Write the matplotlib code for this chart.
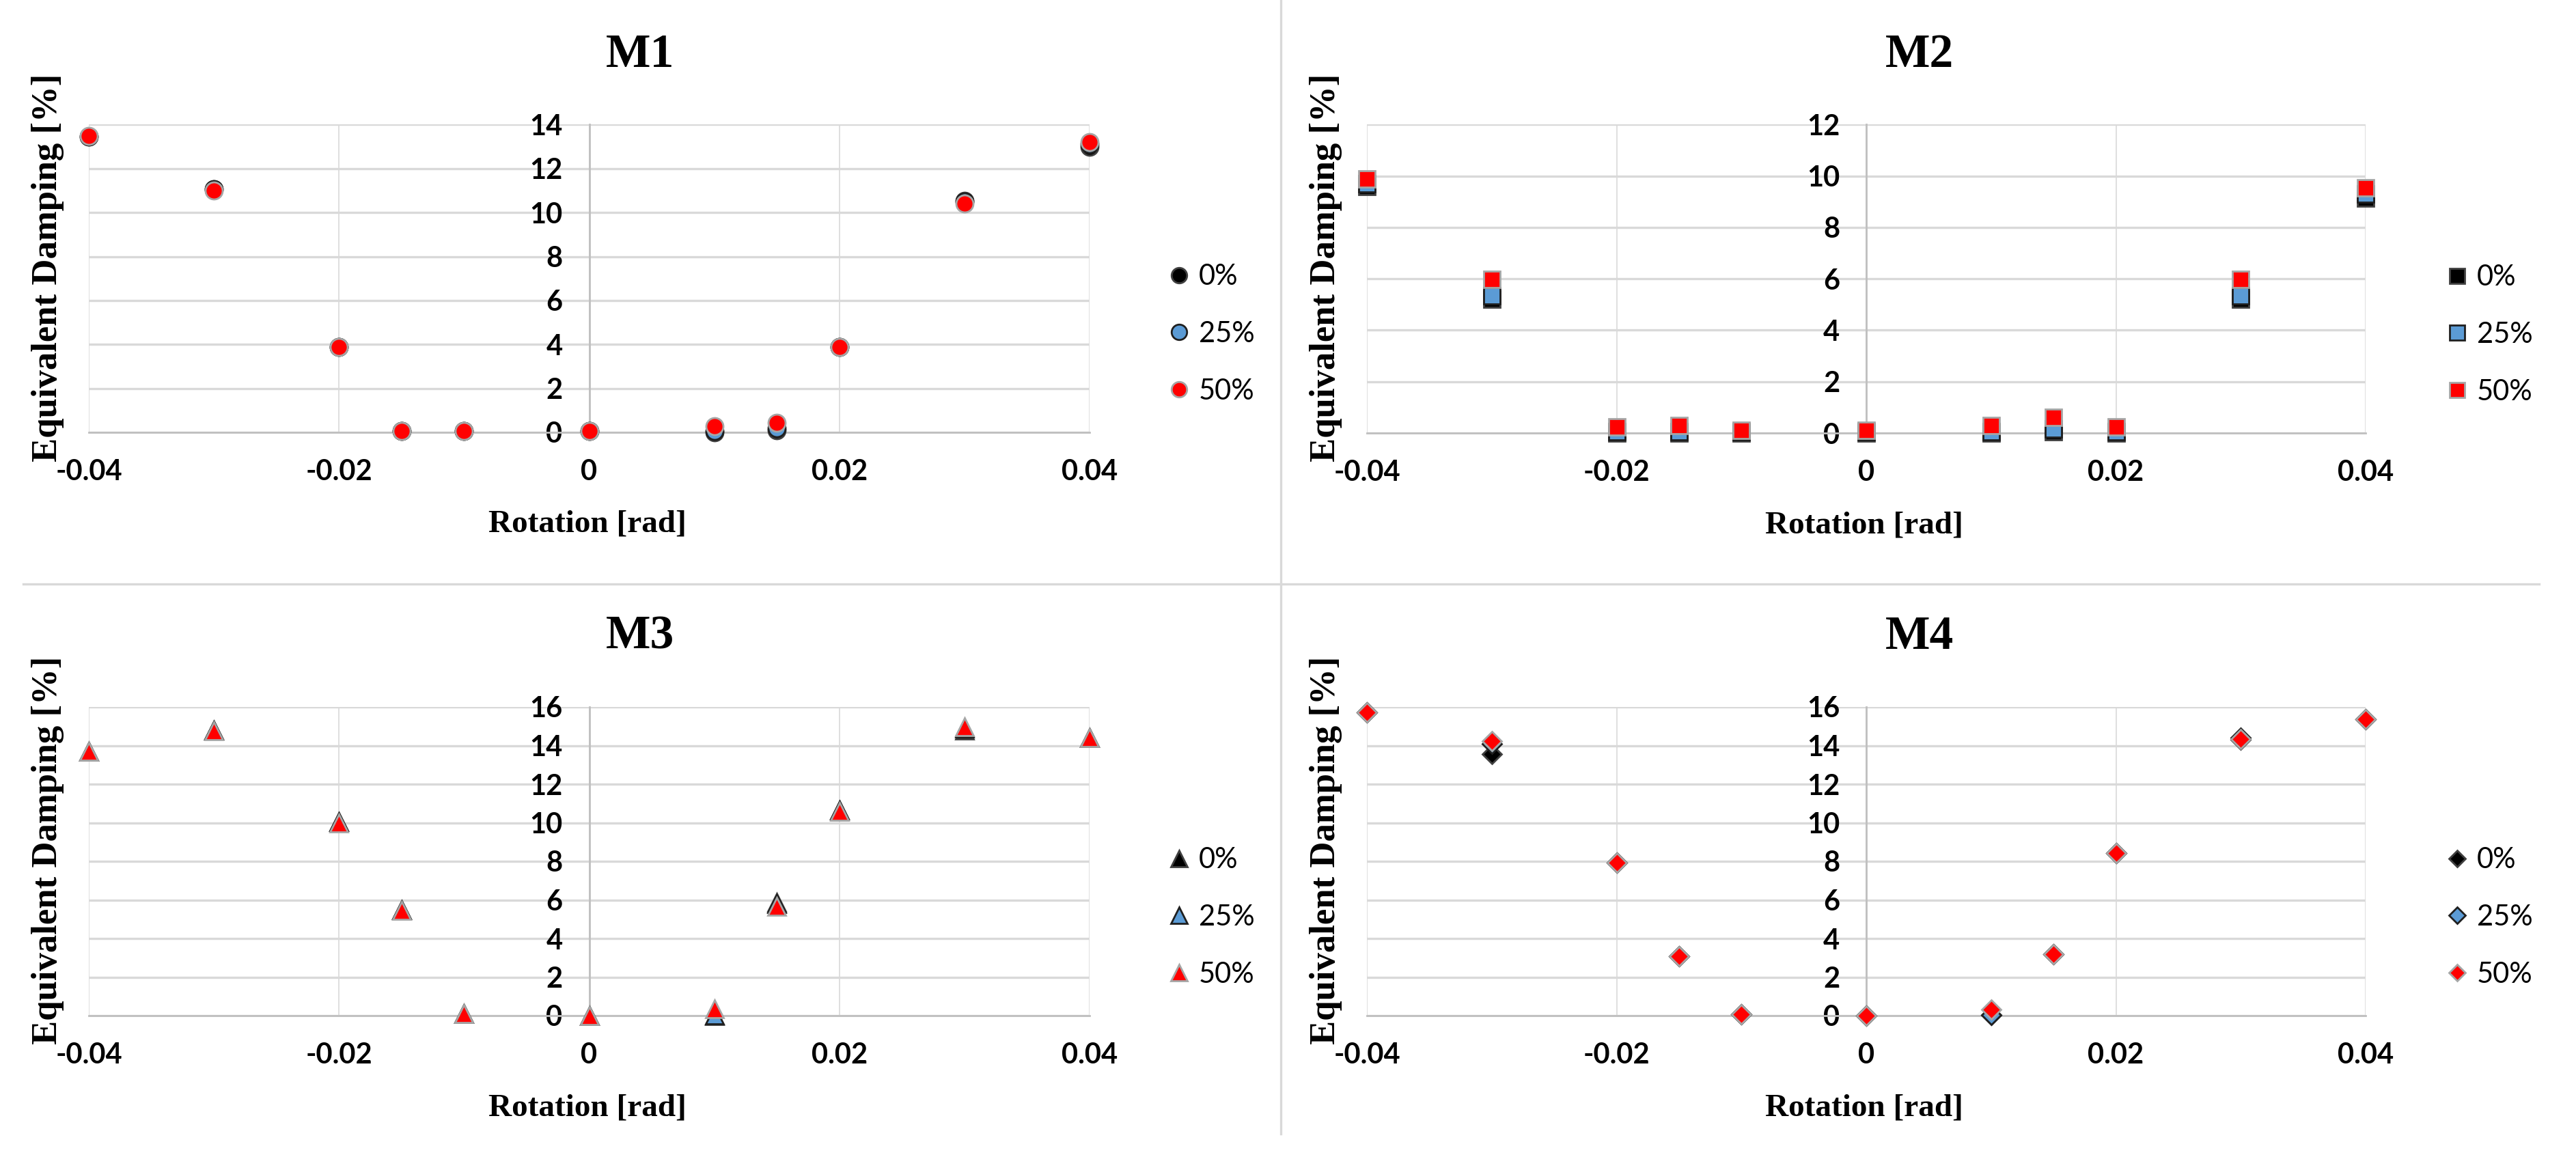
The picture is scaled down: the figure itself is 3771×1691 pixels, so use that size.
import matplotlib
matplotlib.use("Agg")
import matplotlib.pyplot as plt
from matplotlib.lines import Line2D

# rotation values shared by all four models
rotation = [-0.04, -0.03, -0.02, -0.015, -0.01, 0.0, 0.01, 0.015, 0.02, 0.03, 0.04]
series_labels = ["0%", "25%", "50%"]

m1_0 = [13.45, 11.05, 3.9, 0.05, 0.05, 0.05, 0.0, 0.1, 3.9, 10.55, 13.0]
m1_25 = [13.45, 11.05, 3.9, 0.05, 0.05, 0.05, 0.05, 0.2, 3.9, 10.5, 13.1]
m1_50 = [13.5, 11.0, 3.9, 0.05, 0.05, 0.05, 0.28, 0.42, 3.87, 10.4, 13.2]

m2_0 = [9.6, 5.2, 0.0, 0.0, 0.0, 0.0, 0.0, 0.05, 0.0, 5.2, 9.15]
m2_25 = [9.7, 5.35, 0.05, 0.05, 0.05, 0.05, 0.05, 0.17, 0.05, 5.35, 9.3]
m2_50 = [9.9, 5.97, 0.24, 0.3, 0.1, 0.1, 0.3, 0.62, 0.24, 5.97, 9.53]

m3_0 = [13.7, 14.8, 10.05, 5.5, 0.1, 0.0, 0.0, 5.87, 10.65, 14.8, 14.42]
m3_25 = [13.7, 14.8, 10.05, 5.5, 0.1, 0.0, 0.05, 5.8, 10.65, 14.9, 14.42]
m3_50 = [13.7, 14.75, 10.0, 5.45, 0.1, 0.0, 0.35, 5.67, 10.6, 14.96, 14.42]

m4_0 = [15.73, 13.56, 7.94, 3.08, 0.08, 0.0, 0.05, 3.17, 8.42, 14.3, 15.38]
m4_25 = [15.73, 14.1, 7.94, 3.08, 0.08, 0.0, 0.05, 3.17, 8.42, 14.4, 15.38]
m4_50 = [15.73, 14.23, 7.94, 3.08, 0.08, 0.0, 0.33, 3.17, 8.42, 14.33, 15.38]

x_ticks = [-0.04, -0.02, 0.0, 0.02, 0.04]
x_tick_labels = ["-0.04", "-0.02", "0", "0.02", "0.04"]

FACE = ["#000000", "#5B9BD5", "#FF0000"]
EDGE = ["#404040", "#1F1F1F", "#A6A6A6"]

SERIF = ["Liberation Serif", "DejaVu Serif"]
SANS = ["Lato", "DejaVu Sans"]

plt.rcParams["font.family"] = SANS
plt.rcParams["font.weight"] = "bold"
plt.rcParams["font.size"] = 15

W, H = 3771, 1691
fig = plt.figure(figsize=(W / 200, H / 200), dpi=200)

panels = [
    # title, data, marker, size, ymax, (left, right, top, bottom) in px
    ("M1", (m1_0, m1_25, m1_50), "o", 9, 14, (130, 1595, 182.5, 633)),
    ("M2", (m2_0, m2_25, m2_50), "s", 8.5, 12, (2001, 3463, 182.5, 634)),
    ("M3", (m3_0, m3_25, m3_50), "^", 9.5, 16, (130, 1595, 1035, 1487)),
    ("M4", (m4_0, m4_25, m4_50), "D", 7, 16, (2001, 3463, 1035, 1487)),
]

for title, data, marker, ms, ymax, (l, r, t, b) in panels:
    ax = fig.add_axes([l / W, 1 - b / H, (r - l) / W, (b - t) / H])
    for i, ys in enumerate(data):
        ax.plot(rotation, ys, linestyle="none", marker=marker, markersize=ms,
                markerfacecolor=FACE[i], markeredgecolor=EDGE[i],
                markeredgewidth=1.0, clip_on=False, zorder=3 + i)
    ax.set_xlim(-0.04, 0.04)
    ax.set_ylim(0, ymax)
    ax.set_yticks(range(0, ymax + 1, 2))
    ax.set_xticks(x_ticks)
    ax.set_xticklabels(x_tick_labels)
    ax.tick_params(length=0, pad=14, labelsize=15)
    for s in ("top", "right"):
        ax.spines[s].set_visible(False)
    ax.spines["left"].set_position(("data", 0))
    ax.spines["left"].set_color("#BFBFBF")
    ax.spines["left"].set_linewidth(1.0)
    ax.spines["bottom"].set_color("#BFBFBF")
    ax.spines["bottom"].set_linewidth(1.0)
    ax.set_axisbelow(True)
    ax.grid(axis="y", color="#D9D9D9", linewidth=1.2)
    ax.grid(axis="x", color="#D9D9D9", linewidth=0.6)

    handles = [Line2D([], [], linestyle="none", marker=marker, markersize=ms * 0.9,
                      markerfacecolor=FACE[i], markeredgecolor=EDGE[i],
                      markeredgewidth=1.0) for i in range(3)]
    ax.legend(handles, series_labels, loc="center left",
              bbox_to_anchor=(1575 / (r - l), 144 / (b - t)),
              frameon=False, prop={"family": SANS, "size": 15, "weight": "normal"},
              labelspacing=1.1, handletextpad=0.2, handlelength=1.0,
              borderaxespad=0, borderpad=0)

    cx = (l + r) / 2 + (75 if l < 1000 else 78)
    fig.text(cx / W, 1 - (t - 102) / H, title, ha="center", va="center",
             family=SERIF, fontweight="bold", fontsize=25)
    fig.text(((l + r) / 2 - 3) / W, 1 - (b + 135) / H, "Rotation [rad]",
             ha="center", va="center", family=SERIF, fontweight="bold", fontsize=17)
    fig.text((l - 60) / W, 1 - ((t + b) / 2 - 16) / H, "Equivalent Damping [%]",
             ha="center", va="center", rotation=90, family=SERIF,
             fontweight="bold", fontsize=19)

# divider lines between the four panels
fig.add_artist(Line2D([1875 / W, 1875 / W], [1, 1 - 1660 / H],
                      transform=fig.transFigure, color="#D9D9D9", linewidth=1.2))
fig.add_artist(Line2D([34 / W, 3717 / W], [1 - 855 / H, 1 - 855 / H],
                      transform=fig.transFigure, color="#D9D9D9", linewidth=1.2))

fig.savefig("out.png", dpi=200)
